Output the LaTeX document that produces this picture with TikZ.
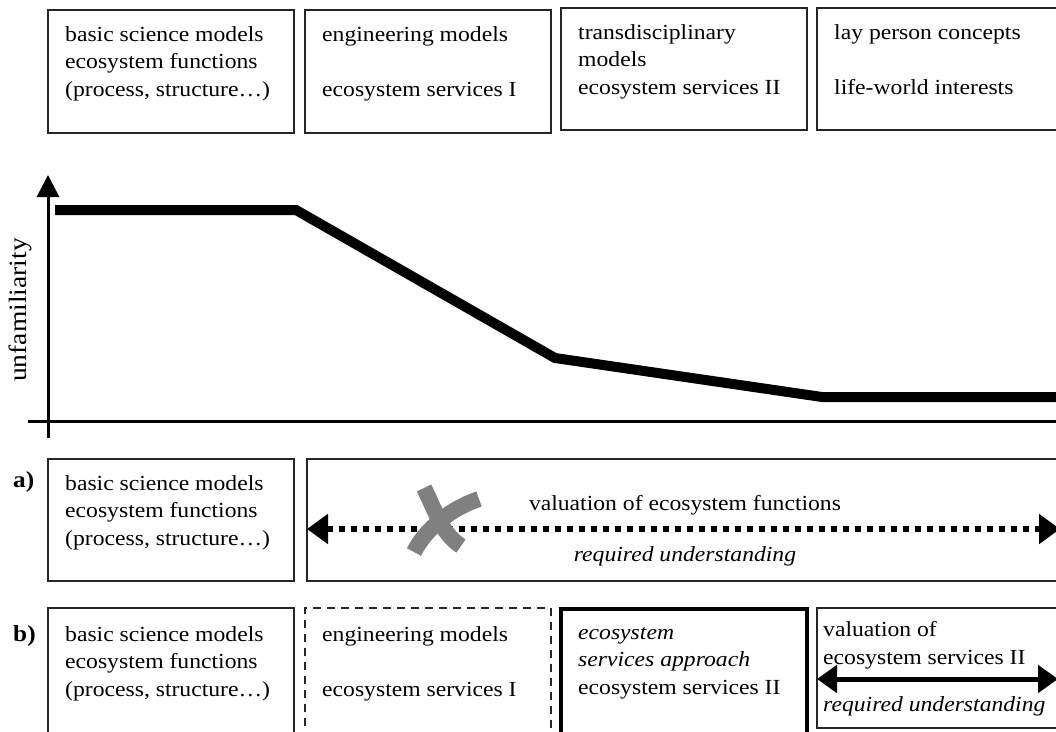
\documentclass[tikz,border=0pt]{standalone}
\usepackage{fontspec}
\setmainfont{Liberation Serif}[FakeStretch=1.1]
\usetikzlibrary{arrows.meta}
\begin{document}
\begin{tikzpicture}[x=1pt,y=-1pt,
  box/.style={draw=black!85, line width=2pt, anchor=north west, inner sep=0pt, outer sep=0pt},
  dbox/.style={box, line width=1.5pt, dash pattern=on 8pt off 6pt},
  tbox/.style={box, draw=black, line width=4pt},
  txt/.style={font=\fontsize{21.5}{27.5}\selectfont, inner sep=0pt, align=left, anchor=north west},
  lbl/.style={font=\fontsize{21.5}{27.5}\selectfont, inner sep=0pt},
  tag/.style={font=\fontsize{23}{27.5}\selectfont\bfseries, inner sep=0pt, anchor=base west},
  axis/.style={line width=3pt, black},
  curve/.style={line width=10pt, black, line join=miter},
  xmark/.style={line width=16pt, black!50},
  dotarrow/.style={line width=6.5pt, dash pattern=on 6.5pt off 5.5pt,
    {Triangle[length=21pt,width=29pt]}-{Triangle[length=21pt,width=29pt]}},
  bigarrow/.style={line width=5pt,
    {Triangle[length=20pt,width=27pt]}-{Triangle[length=20pt,width=27pt]}}]
\useasboundingbox (0,0) rectangle (1056,731);
\clip (0,0) rectangle (1056,731);

% top row: model types
\node[box, minimum width=246pt, minimum height=123pt] (t1) at (48,10) {};
\node[box, minimum width=246pt, minimum height=123pt] (t2) at (305,10) {};
\node[box, minimum width=246pt, minimum height=122pt] (t3) at (561,8) {};
\node[box, minimum width=246pt, minimum height=122pt] (t4) at (817,8) {};
\node[txt] (t1x) at (65,22) {\strut basic science models\\ecosystem functions\\(process, structure\dots)};
\node[txt] (t2x) at (322,22) {\strut engineering models\\[27.5pt]ecosystem services I};
\node[txt] (t3x) at (578,20) {\strut transdisciplinary\\models\\ecosystem services II};
\node[txt] (t4x) at (834,20) {\strut lay person concepts\\[27.5pt]life-world interests};

% unfamiliarity plot
\coordinate (ybot) at (48,438);
\coordinate (ytop) at (48,175);
\coordinate (xl) at (28,421);
\coordinate (xr) at (1062,421);
\draw[axis, -{Triangle[length=22pt,width=22pt]}] (ybot) -- (ytop);
\draw[axis] (xl) -- (xr);
\node[rotate=90, font=\fontsize{25}{30}\selectfont, inner sep=0pt] (ylab) at (20,310) {unfamiliarity};
\draw[curve] (55,210) -- (296,210) -- (555,358) -- (822,397) -- (1062,397);

% a) row
\node[tag] (ta) at (13,487) {a)};
\node[box, minimum width=246pt, minimum height=122pt] (a1) at (48,459) {};
\node[box, minimum width=755pt, minimum height=122pt] (a2) at (307,459) {};
\node[txt] (a1x) at (65,471) {\strut basic science models\\ecosystem functions\\(process, structure\dots)};
\node[lbl, anchor=base] (a2top) at (685,510) {valuation of ecosystem functions};
\node[lbl, anchor=base] (a2bot) at (685,561) {\itshape required understanding};
\coordinate (aL) at (307,529);
\coordinate (aR) at (1060,529);
\draw[dotarrow] (aL) -- (aR);
\draw[xmark] (424,488) .. controls (436,512) and (442,534) .. (461,546);
\draw[xmark] (479,499) .. controls (452,508) and (426,528) .. (414,552);

% b) row
\node[tag] (tb) at (13,641) {b)};
\node[box, minimum width=246pt, minimum height=140pt] (b1) at (48,608) {};
\node[dbox, minimum width=246pt, minimum height=140pt] (b2) at (305,608) {};
\node[tbox, minimum width=246pt, minimum height=140pt] (b3) at (561,609) {};
\node[box, minimum width=245pt, minimum height=120pt] (b4) at (817,608) {};
\node[txt] (b1x) at (65,622) {\strut basic science models\\ecosystem functions\\(process, structure\dots)};
\node[txt] (b2x) at (322,622) {\strut engineering models\\[27.5pt]ecosystem services I};
\node[txt] (b3x) at (578,620) {\strut\itshape ecosystem\\\itshape services approach\\ecosystem services II};
\node[txt] (b4x) at (823,617) {\strut valuation of\\[1pt]ecosystem services II};
\node[lbl, anchor=base west] (b4bot) at (823,711) {\itshape required understanding};
\coordinate (bL) at (817,679);
\coordinate (bR) at (1058,679);
\draw[bigarrow] (bL) -- (bR);
\end{tikzpicture}
\end{document}
